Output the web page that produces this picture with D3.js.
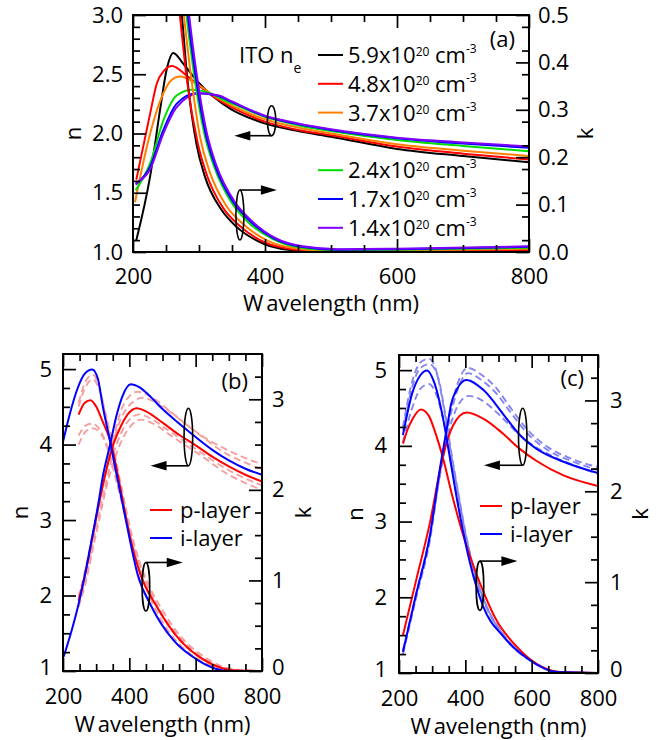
<!DOCTYPE html>
<html>
<head>
<meta charset="utf-8">
<script src="https://cdn.jsdelivr.net/npm/d3@7"></script>
<style>
  body { margin: 0; background: #fff; }
  svg text { font-family: "Open Sans", "Noto Sans", sans-serif; fill: #000; }
</style>
</head>
<body>
<svg id="chart" width="670" height="740"></svg>
<script>
// ---------- tick labels ----------
const wavelengthTicks = [200, 400, 600, 800];
const nTicksA = [1.0, 1.5, 2.0, 2.5, 3.0];
const kTicksA = [0.0, 0.1, 0.2, 0.3, 0.4, 0.5];
const nTicksBC = [1, 2, 3, 4, 5];
const kTicksBC = [0, 1, 2, 3];

// ---------- (a) ITO, carrier density n_e (x10^20 cm^-3) ----------
const itoDensity = ["5.9", "4.8", "3.7", "2.4", "1.7", "1.4"];
const itoColors = ["#000000", "#ff0000", "#ff8000", "#00dd00", "#0000ff", "#8000ff"];

// refractive index n, [wavelength nm, n]
const nIto59 = [[205,1.10],[226,1.64],[241,2.20],[251,2.54],[261,2.68],[276,2.59],[296,2.45],[322,2.31],[347,2.21],[397,2.09],[450,2.02],[500,1.973],[600,1.87],[700,1.81],[800,1.757]];
const nIto48 = [[205,1.61],[226,2.17],[236,2.42],[247,2.53],[259,2.57],[281,2.49],[301,2.40],[325,2.30],[350,2.22],[400,2.10],[450,2.03],[500,1.985],[600,1.89],[700,1.83],[800,1.78]];
const nIto37 = [[203,1.42],[226,2.00],[246,2.34],[258,2.45],[271,2.48],[296,2.42],[325,2.31],[350,2.235],[400,2.12],[450,2.05],[500,2.00],[600,1.91],[700,1.855],[800,1.81]];
const nIto24 = [[204,1.52],[226,1.75],[246,2.11],[266,2.32],[289,2.37],[317,2.34],[337,2.285],[360,2.23],[400,2.14],[450,2.07],[500,2.02],[600,1.945],[700,1.895],[800,1.85]];
const nIto17 = [[204,1.57],[226,1.72],[246,2.03],[266,2.25],[296,2.34],[327,2.32],[350,2.265],[400,2.145],[450,2.08],[500,2.03],[600,1.96],[700,1.915],[800,1.88]];
const nIto14 = [[204,1.58],[226,1.70],[246,2.00],[266,2.22],[301,2.34],[330,2.32],[350,2.27],[400,2.15],[450,2.085],[500,2.035],[600,1.965],[700,1.925],[800,1.89]];

// extinction coefficient k, [wavelength nm, k]
const kIto59 = [[265,0.62],[274,0.50],[282,0.37],[296,0.229],[309,0.159],[334,0.089],[357,0.053],[397,0.018],[438,0.004],[480,0.000],[550,0.000],[650,0.001],[800,0.003]];
const kIto48 = [[262,0.62],[271,0.50],[282,0.36],[298,0.230],[312,0.162],[337,0.092],[361,0.056],[400,0.020],[440,0.006],[490,0.001],[550,0.001],[650,0.002],[800,0.005]];
const kIto37 = [[268,0.62],[277,0.50],[288,0.37],[302,0.240],[316,0.170],[341,0.098],[366,0.060],[405,0.023],[445,0.008],[500,0.002],[600,0.003],[800,0.007]];
const kIto24 = [[272,0.62],[281,0.50],[293,0.37],[308,0.250],[323,0.180],[349,0.105],[373,0.065],[412,0.027],[450,0.010],[500,0.004],[600,0.005],[800,0.009]];
const kIto17 = [[274,0.62],[283,0.50],[295,0.37],[310,0.250],[325,0.180],[351,0.107],[376,0.067],[414,0.028],[455,0.011],[510,0.005],[600,0.006],[800,0.011]];
const kIto14 = [[276,0.62],[285,0.50],[297,0.37],[312,0.250],[327,0.180],[353,0.108],[378,0.068],[416,0.029],[457,0.012],[510,0.006],[600,0.007],[800,0.012]];

// ---------- (b) a-Si layers ----------
const layerNames = ["p-layer", "i-layer"];
const pLayerNb = [[247,1.93],[270,2.35],[290,2.80],[310,3.25],[330,3.65],[350,3.98],[370,4.20],[395,4.40],[422,4.48],[450,4.44],[500,4.29],[550,4.13],[600,3.99],[650,3.84],[700,3.71],[750,3.60],[800,3.51]];
const pLayerKb = [[247,2.83],[265,2.96],[283,2.99],[300,2.92],[320,2.75],[346,2.50],[365,2.17],[385,1.79],[405,1.43],[432,1.08],[483,0.71],[553,0.34],[624,0.125],[680,0.03],[720,0.005],[800,0]];
const iLayerNb = [[202,1.19],[225,1.52],[245,1.85],[265,2.25],[286,2.73],[305,3.18],[321,3.60],[341,3.98],[361,4.38],[380,4.65],[404,4.80],[430,4.76],[460,4.65],[500,4.47],[550,4.28],[600,4.10],[650,3.93],[700,3.79],[750,3.68],[800,3.60]];
const iLayerKb = [[200,2.53],[220,2.83],[245,3.13],[265,3.28],[288,3.33],[305,3.23],[320,2.92],[341,2.55],[361,2.18],[381,1.82],[402,1.44],[424,1.08],[467,0.71],[533,0.34],[604,0.125],[660,0.025],[700,0],[800,0]];
// other p-layer films (dashed)
const pAltN1 = [[247,1.98],[270,2.40],[290,2.82],[310,3.25],[330,3.68],[352,4.05],[375,4.35],[400,4.52],[440,4.62],[500,4.50],[550,4.34],[614,4.13],[700,3.92],[750,3.82],[800,3.74]];
const pAltN2 = [[247,1.90],[270,2.32],[290,2.78],[310,3.22],[330,3.66],[352,4.08],[375,4.45],[400,4.64],[425,4.70],[470,4.62],[520,4.45],[600,4.17],[700,3.86],[750,3.76],[800,3.67]];
const pAltN3 = [[247,1.88],[270,2.25],[290,2.68],[310,3.10],[330,3.50],[352,3.88],[375,4.15],[400,4.33],[430,4.40],[470,4.33],[520,4.18],[614,3.90],[700,3.66],[750,3.55],[800,3.46]];
const pAltN4 = [[247,1.85],[270,2.20],[290,2.62],[310,3.02],[330,3.42],[355,3.80],[380,4.08],[405,4.25],[435,4.33],[475,4.27],[525,4.12],[614,3.86],[700,3.60],[750,3.49],[800,3.40]];
const pAltK1 = [[247,2.96],[270,3.21],[290,3.27],[310,3.13],[330,2.79],[350,2.42],[375,1.96],[400,1.54],[430,1.13],[470,0.75],[520,0.43],[580,0.20],[640,0.07],[700,0.02],[760,0],[800,0]];
const pAltK2 = [[247,2.92],[270,3.15],[290,3.22],[310,3.10],[330,2.82],[352,2.46],[378,2.00],[405,1.54],[440,1.08],[485,0.71],[540,0.39],[600,0.18],[660,0.06],[720,0.01],[800,0]];
const pAltK3 = [[247,2.60],[268,2.71],[288,2.73],[310,2.67],[335,2.46],[360,2.13],[385,1.75],[410,1.42],[440,1.07],[490,0.68],[550,0.38],[610,0.17],[670,0.05],[730,0.01],[800,0]];
const pAltK4 = [[247,2.50],[270,2.65],[290,2.68],[312,2.63],[338,2.42],[362,2.08],[390,1.71],[415,1.38],[450,1.02],[500,0.67],[560,0.36],[620,0.17],[680,0.05],[740,0.01],[800,0]];

// ---------- (c) a-Si layers ----------
const pLayerNc = [[212,1.50],[252,2.23],[293,2.98],[333,3.87],[363,4.27],[404,4.44],[454,4.36],[514,4.16],[564,3.96],[615,3.80],[696,3.61],[800,3.47]];
const pLayerKc = [[212,2.525],[226,2.68],[240,2.79],[266,2.90],[290,2.83],[310,2.64],[333,2.36],[360,1.96],[394,1.51],[444,0.99],[494,0.58],[555,0.29],[615,0.10],[686,0.01],[800,0]];
const iLayerNc = [[212,1.28],[252,2.05],[293,2.81],[323,3.69],[347,4.30],[357,4.55],[375,4.75],[403,4.87],[454,4.74],[514,4.42],[565,4.14],[615,3.96],[696,3.79],[800,3.64]];
const iLayerKc = [[212,2.62],[240,3.08],[265,3.28],[285,3.33],[305,3.21],[333,2.80],[353,2.38],[373,1.95],[414,1.21],[454,0.73],[515,0.40],[595,0.14],[676,0.01],[800,0]];
// other i-layer films (dashed)
const iAltN1 = [[212,1.25],[252,2.00],[293,2.75],[323,3.62],[350,4.35],[375,4.80],[408,5.03],[445,4.95],[494,4.76],[540,4.48],[590,4.20],[650,3.98],[720,3.83],[800,3.72]];
const iAltN2 = [[212,1.27],[252,2.02],[293,2.78],[323,3.66],[350,4.30],[375,4.72],[408,4.96],[445,4.88],[494,4.69],[540,4.42],[590,4.15],[650,3.94],[720,3.80],[800,3.68]];
const iAltN3 = [[212,1.30],[252,2.05],[293,2.82],[323,3.60],[352,4.22],[380,4.55],[410,4.66],[450,4.60],[500,4.42],[550,4.20],[600,4.02],[660,3.87],[730,3.74],[800,3.63]];
const iAltK1 = [[212,2.71],[240,3.21],[265,3.42],[290,3.46],[315,3.29],[335,2.92],[355,2.46],[375,2.04],[400,1.54],[430,1.08],[460,0.77],[515,0.42],[595,0.14],[680,0.01],[800,0]];
const iAltK2 = [[212,2.67],[240,3.15],[265,3.36],[292,3.40],[318,3.25],[338,2.88],[358,2.42],[378,2.00],[403,1.50],[432,1.06],[462,0.75],[518,0.40],[600,0.13],[680,0.01],[800,0]];
const iAltK3 = [[212,2.54],[240,2.92],[265,3.13],[290,3.18],[315,3.04],[338,2.71],[358,2.29],[380,1.83],[405,1.38],[435,0.98],[465,0.71],[520,0.38],[600,0.125],[680,0.01],[800,0]];

// ---------- drawing ----------
const svg = d3.select("#chart");
const RED = "#ff0000", BLUE = "#0000ff";
const PALE_RED = "#f5a0a0", PALE_BLUE = "#8585f0";
const FS = 22;

function panel(p) {
  const g = svg.append("g");
  const x = d3.scaleLinear().domain([200, 800]).range([p.left, p.right]);
  const yN = d3.scaleLinear().domain(p.nDomain).range([p.bottom, p.top]);
  const yK = d3.scaleLinear().domain(p.kDomain).range([p.bottom, p.top]);

  const clipId = "clip-" + p.id;
  svg.append("defs").append("clipPath").attr("id", clipId)
    .append("rect").attr("x", p.left).attr("y", p.top)
    .attr("width", p.right - p.left).attr("height", p.bottom - p.top);

  const plot = g.append("g").attr("clip-path", `url(#${clipId})`);
  const line = (y) => d3.line().x(d => x(d[0])).y(d => y(d[1])).curve(d3.curveMonotoneX);

  p.series.forEach(s => {
    plot.append("path").datum(s.data)
      .attr("d", line(s.axis === "k" ? yK : yN))
      .attr("fill", "none")
      .attr("stroke", s.color)
      .attr("stroke-width", s.dash ? 1.9 : 2)
      .attr("stroke-dasharray", s.dash ? "7,4" : null);
  });

  // axes: inward ticks
  function axis(gen, tr, values, size, fmt, pad) {
    const a = g.append("g").attr("transform", tr)
      .call(gen.tickValues(values).tickSize(size).tickSizeOuter(0).tickPadding(pad).tickFormat(fmt));
    a.select(".domain").remove();
    a.attr("font-family", null).attr("font-size", FS);
    a.selectAll("line").attr("stroke", "#000").attr("stroke-width", 1.7);
    a.selectAll("text").attr("fill", "#000");
    return a;
  }
  const minorW = d3.range(250, 800, 50).filter(v => v % 200 !== 0);
  axis(d3.axisBottom(x), `translate(0,${p.bottom})`, wavelengthTicks, -13, d3.format("d"), p.padBottom);
  axis(d3.axisBottom(x), `translate(0,${p.bottom})`, minorW, -7, "", 0);
  axis(d3.axisTop(x), `translate(0,${p.top})`, wavelengthTicks, -13, "", 0);
  axis(d3.axisTop(x), `translate(0,${p.top})`, minorW, -7, "", 0);
  const left = axis(d3.axisLeft(yN), `translate(${p.left},0)`, p.nTicks, -13, p.nFormat, p.padLeft);
  axis(d3.axisLeft(yN), `translate(${p.left},0)`, p.nMinor, -7, "", 0);
  const right = axis(d3.axisRight(yK), `translate(${p.right},0)`, p.kTicks, -13, p.kFormat, p.padRight);
  axis(d3.axisRight(yK), `translate(${p.right},0)`, p.kMinor, -7, "", 0);
  // lift the lowest side labels a little so they clear the wavelength labels
  if (p.cornerLift) {
    left.selectAll("text").filter(d => d === p.nDomain[0]).attr("y", -p.cornerLift);
    right.selectAll("text").filter(d => d === p.kDomain[0]).attr("y", -p.cornerLift);
  }

  g.append("rect").attr("x", p.left).attr("y", p.top)
    .attr("width", p.right - p.left).attr("height", p.bottom - p.top)
    .attr("fill", "none").attr("stroke", "#000").attr("stroke-width", 2);

  // axis titles
  const xt = g.append("text").attr("x", (p.left + p.right) / 2).attr("y", p.titleY)
    .attr("text-anchor", "middle").attr("font-size", FS);
  xt.append("tspan").text("W");
  xt.append("tspan").attr("dx", 3).text("avelength (nm)");
  g.append("text").attr("transform", `translate(${p.nTitleX},${(p.top + p.bottom) / 2}) rotate(-90)`)
    .attr("text-anchor", "middle").attr("dy", "0.27em").attr("font-size", FS).text("n");
  g.append("text").attr("transform", `translate(${p.kTitleX},${(p.top + p.bottom) / 2}) rotate(-90)`)
    .attr("text-anchor", "middle").attr("dy", "0.38em").attr("font-size", FS).text("k");

  // panel tag
  g.append("text").attr("x", p.right - 14).attr("y", p.tagY)
    .attr("text-anchor", "end").attr("font-size", FS).text(p.tag);

  // ellipse + arrow markers pointing to the matching axis
  p.markers.forEach(m => {
    const yS = m.axis === "k" ? yK : yN;
    const cx = x(m.at[0]), cy = yS(m.at[1]);
    g.append("ellipse").attr("cx", cx).attr("cy", cy).attr("rx", m.rx).attr("ry", m.ry)
      .attr("fill", "none").attr("stroke", "#000").attr("stroke-width", 1.6);
    const ly = m.dir < 0 ? cy + m.ry : cy - m.ry;
    const tip = x(m.tip);
    g.append("line").attr("x1", cx).attr("x2", tip - m.dir * 14).attr("y1", ly).attr("y2", ly)
      .attr("stroke", "#000").attr("stroke-width", 1.6);
    g.append("path")
      .attr("d", `M${tip},${ly} L${tip - m.dir * 16},${ly - 4.8} L${tip - m.dir * 16},${ly + 4.8} Z`)
      .attr("fill", "#000");
  });

  return { g, x, yN, yK };
}

// ----- panel (a) -----
const nItoAll = [nIto59, nIto48, nIto37, nIto24, nIto17, nIto14];
const kItoAll = [kIto59, kIto48, kIto37, kIto24, kIto17, kIto14];
const seriesA = [];
itoColors.forEach((c, i) => seriesA.push({ data: nItoAll[i], axis: "n", color: c }));
itoColors.forEach((c, i) => seriesA.push({ data: kItoAll[i], axis: "k", color: c }));

const pa = panel({
  id: "a", tag: "(a)", left: 133, right: 529, top: 15, bottom: 252,
  nDomain: [1, 3], kDomain: [0, 0.5],
  nTicks: nTicksA, nMinor: d3.range(1.1, 3.0, 0.1).filter((v, i) => (i + 1) % 5 !== 0),
  kTicks: kTicksA, kMinor: d3.range(0.025, 0.5, 0.05),
  nFormat: d3.format(".1f"), kFormat: d3.format(".1f"),
  padBottom: 16, padLeft: 10, padRight: 9,
  titleY: 311, nTitleX: 75, kTitleX: 585, tagY: 47,
  series: seriesA,
  markers: [
    { axis: "n", at: [410, 2.108], rx: 4.2, ry: 15, tip: 353.5, dir: -1 },
    { axis: "k", at: [362, 0.078], rx: 4, ry: 25, tip: 418, dir: 1 }
  ]
});

// legend (a)
const lg = pa.g.append("g");
lg.append("text").attr("x", 239).attr("y", 63).attr("font-size", FS)
  .call(t => { t.append("tspan").text("ITO n"); t.append("tspan").attr("font-size", 14).attr("dy", 10).text("e"); });
const legendSlots = [0, 1, 2, 4, 5, 6];
itoDensity.forEach((d, i) => {
  const y = 55 + legendSlots[i] * 28.8;
  lg.append("line").attr("x1", 318).attr("x2", 343).attr("y1", y).attr("y2", y)
    .attr("stroke", itoColors[i]).attr("stroke-width", 2);
  const t = lg.append("text").attr("x", 348).attr("y", y + 8).attr("font-size", FS);
  t.append("tspan").text(d + "x10");
  t.append("tspan").attr("font-size", 12).attr("dy", -7).text("20");
  t.append("tspan").attr("dy", 7).text(" cm");
  t.append("tspan").attr("font-size", 12).attr("dy", -10).text("-3");
});

// ----- panels (b), (c) -----
function layerLegend(g, lx, ly) {
  [RED, BLUE].forEach((c, i) => {
    const y = ly + i * 28;
    g.append("line").attr("x1", lx).attr("x2", lx + 22).attr("y1", y).attr("y2", y)
      .attr("stroke", c).attr("stroke-width", 2);
    g.append("text").attr("x", lx + 30).attr("y", y + 8).attr("font-size", FS).text(layerNames[i]);
  });
}

const nMinorBC = d3.range(1.25, 5.2, 0.25).filter(v => Math.abs(v - Math.round(v)) > 0.01);
const kMinorBC = d3.range(0.25, 3.5, 0.25).filter(v => Math.abs(v - Math.round(v)) > 0.01);

const pb = panel({
  id: "b", tag: "(b)", left: 63, right: 262, top: 354, bottom: 671,
  nDomain: [1, 5.2], kDomain: [0, 3.5],
  nTicks: nTicksBC, nMinor: nMinorBC, kTicks: kTicksBC, kMinor: kMinorBC,
  nFormat: d3.format("d"), kFormat: d3.format("d"),
  padBottom: 17.5, padLeft: 11, padRight: 10, cornerLift: 4,
  titleY: 732, nTitleX: 22, kTitleX: 303, tagY: 389,
  series: [
    ...[pAltN1, pAltN2, pAltN3, pAltN4].map(d => ({ data: d, axis: "n", color: PALE_RED, dash: true })),
    ...[pAltK1, pAltK2, pAltK3, pAltK4].map(d => ({ data: d, axis: "k", color: PALE_RED, dash: true })),
    { data: pLayerNb, axis: "n", color: RED }, { data: pLayerKb, axis: "k", color: RED },
    { data: iLayerNb, axis: "n", color: BLUE }, { data: iLayerKb, axis: "k", color: BLUE }
  ],
  markers: [
    { axis: "n", at: [578, 4.10], rx: 4.3, ry: 28.8, tip: 464, dir: -1 },
    { axis: "k", at: [450, 0.93], rx: 3.8, ry: 24.3, tip: 561, dir: 1 }
  ]
});
layerLegend(pb.g, 150, 510);

const pc = panel({
  id: "c", tag: "(c)", left: 399, right: 598, top: 355, bottom: 673,
  nDomain: [1, 5.2], kDomain: [0, 3.5],
  nTicks: nTicksBC, nMinor: nMinorBC, kTicks: kTicksBC, kMinor: kMinorBC,
  nFormat: d3.format("d"), kFormat: d3.format("d"),
  padBottom: 17, padLeft: 12, padRight: 12, cornerLift: 4,
  titleY: 734, nTitleX: 357, kTitleX: 640, tagY: 386,
  series: [
    ...[iAltN1, iAltN2, iAltN3].map(d => ({ data: d, axis: "n", color: PALE_BLUE, dash: true })),
    ...[iAltK1, iAltK2, iAltK3].map(d => ({ data: d, axis: "k", color: PALE_BLUE, dash: true })),
    { data: pLayerNc, axis: "n", color: RED }, { data: pLayerKc, axis: "k", color: RED },
    { data: iLayerNc, axis: "n", color: BLUE }, { data: iLayerKc, axis: "k", color: BLUE }
  ],
  markers: [
    { axis: "n", at: [573, 4.12], rx: 4.2, ry: 28.5, tip: 456, dir: -1 },
    { axis: "k", at: [444, 0.96], rx: 3.8, ry: 24.7, tip: 557, dir: 1 }
  ]
});
layerLegend(pc.g, 480, 506);
</script>
</body>
</html>
